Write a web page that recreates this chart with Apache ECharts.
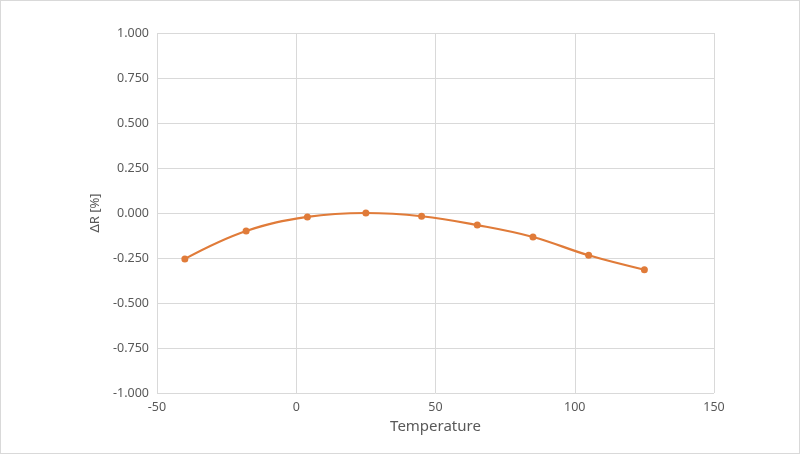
<!DOCTYPE html>
<html><head><meta charset="utf-8">
<script src="https://cdn.jsdelivr.net/npm/echarts@6/dist/echarts.min.js"></script>
<style>html,body{margin:0;padding:0;background:#fff}#c{width:800px;height:454px;box-sizing:border-box;border:1px solid #d9d9d9}</style>
</head><body><div id="c"></div>
<script>
const temps = [-40, -18, 4, 25, 45, 65, 85, 105, 125];
const deltaR = [-0.255, -0.1, -0.022, 0, -0.018, -0.067, -0.133, -0.235, -0.315];
const chart = echarts.init(document.getElementById('c'));
chart.setOption({
  animation: false,
  grid: {left: 156, right: 85, top: 32, bottom: 60},
  xAxis: {type: 'value', min: -50, max: 150, interval: 50,
    name: 'Temperature', nameLocation: 'middle', nameGap: 26,
    nameTextStyle: {color: '#595959', fontSize: 15, fontFamily: 'Noto Sans'},
    axisLine: {show: false}, axisTick: {show: false},
    axisLabel: {color: '#595959', fontSize: 12.5, fontFamily: 'Noto Sans'},
    splitLine: {lineStyle: {color: '#d9d9d9'}}},
  yAxis: {type: 'value', min: -1, max: 1, interval: 0.25,
    name: 'ΔR [%]', nameLocation: 'middle', nameGap: 22,
    nameTextStyle: {color: '#595959', fontSize: 13, fontFamily: 'Noto Sans'},
    axisLine: {show: false}, axisTick: {show: false},
    axisLabel: {color: '#595959', fontSize: 12.5, fontFamily: 'Noto Sans', formatter: v => v.toFixed(3)},
    splitLine: {lineStyle: {color: '#d9d9d9'}}},
  series: [{type: 'line', smooth: 0.4, data: temps.map((t, i) => [t, deltaR[i]]),
    symbol: 'circle', symbolSize: 7,
    lineStyle: {color: '#E07B39', width: 2.2}, itemStyle: {color: '#E07B39'}}]
});
</script></body></html>
